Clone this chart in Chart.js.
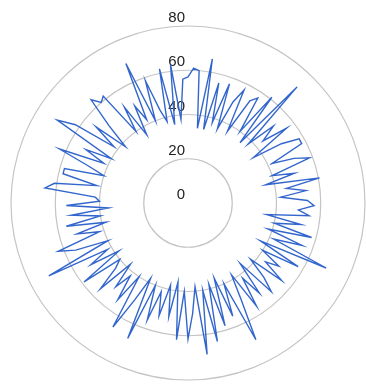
<!DOCTYPE html>
<html><head><meta charset="utf-8">
<script src="https://cdn.jsdelivr.net/npm/chart.js@4/dist/chart.umd.min.js"></script>
<style>html,body{margin:0;padding:0;background:#fff}#wrap{width:366px;height:386px;position:relative}</style>
</head><body><div id="wrap"><canvas id="c"></canvas></div>
<script>
const values = [
  57,61,60,34,66,34,56,38,57,36,
  50,57,37,54,57,40,61,36,72,38,
  52,44,56,36,50,58,58,42,52,58.6,
  40,50,36,60.5,45,53.6,42,54,57,50,
  55,36,52,40,58,38,55,42,69,37,
  57.5,40,50,44,55,38,48,55,36,52,
  42,56,38,50,69,40,55,36,58,38,
  64,40,69,38,50,61.5,40,62,36,52,
  38,52.6,42,56,40,67,38,50,65.5,40,
  54,42,50,38,55.5,44,40,59,38,52,
  42,71,40,55,62.6,42,52,38,56,40,
  53,36,55,40,42,65,61,42,58,58,
  40,48,63,42,52,40,70,62,42,54,
  38,50,64,60,61.7,40,52,36,50,42,
  69,40,58.5,44,38,62,36,63,38,56
];
const categories = values.map((v, i) => String(i + 1));
const tickValues = [0, 20, 40, 60, 80];

const tickLabelPlugin = {
  id: 'tickLabels',
  beforeDatasetsDraw(chart) {
    const s = chart.scales.r, ctx = chart.ctx;
    ctx.save();
    ctx.font = '15px "Liberation Sans", Arial, sans-serif';
    ctx.fillStyle = '#222';
    ctx.textAlign = 'right';
    ctx.textBaseline = 'alphabetic';
    tickValues.forEach(v => {
      const y = s.yCenter - s.getDistanceFromCenterForValue(v);
      ctx.fillText(String(v), s.xCenter - 3, y - 4);
    });
    ctx.restore();
  }
};

new Chart(document.getElementById('c'), {
  type: 'radar',
  data: {
    labels: categories,
    datasets: [{
      data: values,
      borderColor: '#3366cc',
      borderWidth: 1.4,
      pointRadius: 0,
      pointHoverRadius: 0,
      fill: false,
      tension: 0
    }]
  },
  options: {
    responsive: true,
    maintainAspectRatio: false,
    animation: false,
    layout: { padding: { left: 11, right: -5, top: 23, bottom: 2 } },
    plugins: { legend: { display: false }, tooltip: { enabled: false } },
    scales: {
      r: {
        min: 0, max: 80,
        ticks: { stepSize: 20, display: false },
        grid: { circular: true, color: '#c4c4c4', lineWidth: 1.2 },
        angleLines: { display: false },
        pointLabels: { display: false }
      }
    }
  },
  plugins: [tickLabelPlugin]
});
</script></body></html>
